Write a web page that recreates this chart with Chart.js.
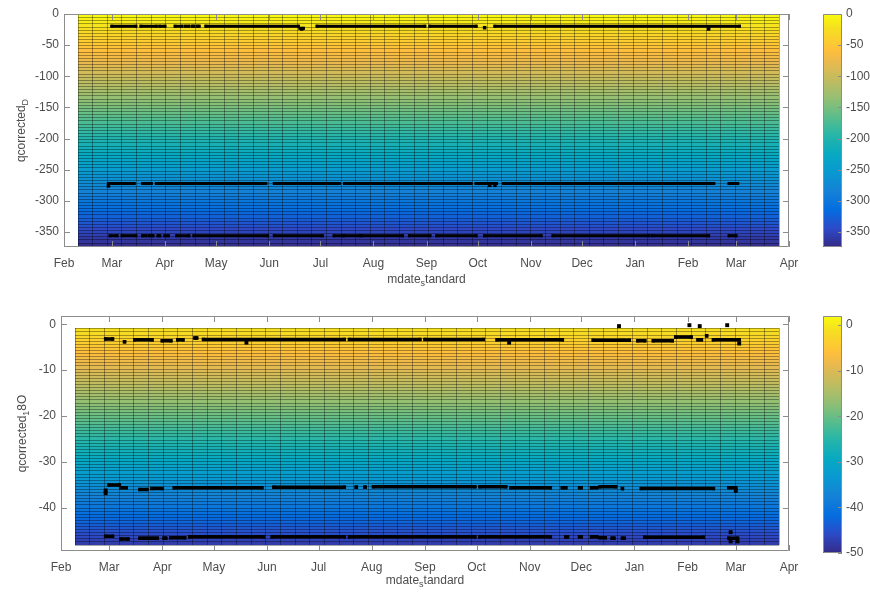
<!DOCTYPE html>
<html>
<head>
<meta charset="utf-8">
<script src="https://cdn.jsdelivr.net/npm/chart.js@4/dist/chart.umd.min.js"></script>
<style>
  body { margin: 0; background: #fff; width: 870px; height: 596px; overflow: hidden; position: relative; }
  canvas { position: absolute; }
</style>
</head>
<body>
<canvas id="plotD" width="800" height="300" style="left:0;top:0"></canvas>
<canvas id="cbarD" width="70" height="300" style="left:800px;top:0"></canvas>
<canvas id="plotO" width="800" height="296" style="left:0;top:300px"></canvas>
<canvas id="cbarO" width="70" height="296" style="left:800px;top:300px"></canvas>
<script>
// x axis (mdate_standard)
const monthTicks = ['2017-02-01','2017-03-01','2017-04-01','2017-05-01','2017-06-01','2017-07-01','2017-08-01',
  '2017-09-01','2017-10-01','2017-11-01','2017-12-01','2018-01-01','2018-02-01','2018-03-01','2018-04-01'];
const monthLabels = ['Feb','Mar','Apr','May','Jun','Jul','Aug','Sep','Oct','Nov','Dec','Jan','Feb','Mar','Apr'];

// pcolor mesh extent in time
const meshDates = ['2017-02-09', '2018-03-26'];
const meshCols = 48;

// ---- qcorrected_D panel ----
const dTicks = [0, -50, -100, -150, -200, -250, -300, -350];
const dRange = [-374, 0];
const dMesh = [-372, 0];
const dRows = 74;
// runs of samples: [from, to, value]
const dHigh = [
  ['2017-03-01','2017-03-15',-19.5], ['2017-03-18','2017-03-27',-19.5], ['2017-03-29','2017-04-01',-19.5],
  ['2017-04-07','2017-04-11',-19.5], ['2017-04-13','2017-04-15',-19.5], ['2017-04-17','2017-04-18',-19.5],
  ['2017-04-20','2017-04-21',-19.5], ['2017-04-25','2017-06-18',-19.5], ['2017-06-19','2017-06-21',-23],
  ['2017-06-29','2017-08-31',-19.5], ['2017-09-03','2017-09-30',-19.5], ['2017-10-11','2018-03-03',-19.5]
];
const dMid = [
  ['2017-02-27','2017-03-14',-272], ['2017-03-19','2017-03-24',-272], ['2017-03-27','2017-05-30',-272],
  ['2017-06-04','2017-07-12',-272], ['2017-07-15','2017-09-27',-272], ['2017-09-30','2017-10-12',-272],
  ['2017-10-16','2018-02-16',-272], ['2018-02-25','2018-03-02',-272]
];
const dLow = [
  ['2017-02-28','2017-03-04',-356], ['2017-03-07','2017-03-15',-356], ['2017-03-19','2017-03-21',-356],
  ['2017-03-23','2017-03-25',-356], ['2017-03-28','2017-03-29',-356], ['2017-04-01','2017-04-03',-356],
  ['2017-04-08','2017-04-15',-356], ['2017-04-18','2017-05-31',-356], ['2017-06-04','2017-07-02',-356],
  ['2017-07-09','2017-07-14',-356], ['2017-07-15','2017-07-24',-356], ['2017-07-25','2017-08-18',-356],
  ['2017-08-22','2017-09-03',-356], ['2017-09-07','2017-09-30',-356], ['2017-10-05','2017-11-07',-356],
  ['2017-11-14','2018-01-09',-356], ['2018-01-11','2018-02-13',-356], ['2018-02-25','2018-03-01',-356]
];
// single samples off the main runs: [date, value]
const dSingles = [
  ['2017-02-27',-276], ['2017-06-20',-24], ['2017-10-05',-22], ['2017-10-08',-275], ['2017-10-11',-275],
  ['2018-02-13',-24]
];

// ---- qcorrected_18O panel ----
const oTicks = [0, -10, -20, -30, -40];
const oBarTicks = [0, -10, -20, -30, -40, -50];
const oRange = [-49.4, 1.8];
const oBarRange = [-50, 2];
const oMesh = [-48, -0.9];
const oRows = 70;
const oHigh = [
  ['2017-02-27','2017-03-03',-3.2], ['2017-03-10','2017-03-10',-3.8], ['2017-03-16','2017-03-26',-3.4],
  ['2017-04-01','2017-04-06',-3.6], ['2017-04-10','2017-04-13',-3.4], ['2017-04-20','2017-04-21',-3.0],
  ['2017-04-25','2017-07-16',-3.3], ['2017-07-19','2017-08-29',-3.3], ['2017-09-01','2017-10-05',-3.3],
  ['2017-10-13','2017-11-20',-3.4], ['2017-12-08','2017-12-24',-3.5], ['2017-12-26','2017-12-29',-3.5],
  ['2018-01-03','2018-01-07',-3.6], ['2018-01-12','2018-01-23',-3.6], ['2018-01-25','2018-02-03',-2.8],
  ['2018-02-07','2018-02-09',-3.4], ['2018-02-12','2018-02-12',-2.5], ['2018-02-16','2018-03-03',-3.4]
];
const oMid = [
  ['2017-03-01','2017-03-07',-35.0], ['2017-03-08','2017-03-11',-35.6], ['2017-03-19','2017-03-23',-36.0],
  ['2017-03-26','2017-04-01',-35.8], ['2017-04-08','2017-05-29',-35.6], ['2017-06-05','2017-07-16',-35.5],
  ['2017-07-23','2017-07-23',-35.5], ['2017-07-28','2017-07-28',-35.5], ['2017-08-02','2017-09-30',-35.4],
  ['2017-10-03','2017-10-18',-35.4], ['2017-10-21','2017-11-13',-35.6], ['2017-11-20','2017-11-22',-35.6],
  ['2017-11-30','2017-12-01',-35.6], ['2017-12-07','2017-12-10',-35.6], ['2017-12-12','2017-12-21',-35.4],
  ['2017-12-25','2017-12-25',-35.8], ['2018-01-05','2018-02-16',-35.8], ['2018-02-25','2018-03-01',-35.6]
];
const oLow = [
  ['2017-02-27','2017-03-03',-46.2], ['2017-03-08','2017-03-12',-46.8], ['2017-03-19','2017-03-21',-46.6],
  ['2017-03-23','2017-03-25',-46.6], ['2017-03-27','2017-03-29',-46.6], ['2017-04-02','2017-04-03',-46.6],
  ['2017-04-06','2017-04-14',-46.5], ['2017-04-17','2017-05-30',-46.3], ['2017-06-04','2017-07-16',-46.3],
  ['2017-07-19','2017-09-30',-46.3], ['2017-10-03','2017-11-13',-46.3], ['2017-11-22','2017-11-23',-46.3],
  ['2017-11-30','2017-12-01',-46.3], ['2017-12-07','2017-12-10',-46.3], ['2017-12-12','2017-12-15',-46.5],
  ['2017-12-19','2017-12-20',-46.6], ['2017-12-25','2017-12-26',-46.6], ['2018-01-07','2018-02-10',-46.4],
  ['2018-02-25','2018-03-02',-46.6]
];
const oSingles = [
  ['2017-02-27',-36.8], ['2017-02-27',-36.2], ['2017-05-20',-4.0], ['2017-10-20',-4.0],
  ['2017-12-23',-0.4], ['2018-02-02',-0.2], ['2018-02-08',-0.4], ['2018-02-24',-0.2],
  ['2018-02-26',-45.3], ['2018-02-26',-47.3], ['2018-03-01',-36.3], ['2018-03-02',-47.3], ['2018-03-03',-4.2]
];

// parula colormap stops
const parula = [
  [0.2081,0.1663,0.5292],[0.1707,0.2919,0.7792],[0.0165,0.4266,0.8786],[0.0779,0.5040,0.8384],
  [0.0343,0.5966,0.8199],[0.0267,0.6642,0.7607],[0.1453,0.7098,0.6646],[0.3482,0.7424,0.5473],
  [0.5709,0.7485,0.4494],[0.7525,0.7384,0.3768],[0.9139,0.7258,0.3063],[0.9938,0.7455,0.2403],
  [0.9880,0.8066,0.1794],[0.9626,0.8705,0.1309],[0.9763,0.9831,0.0538]
];
const parulaPos = [0, 5, 10, 15, 20, 25, 30, 35, 40, 45, 50, 53, 56, 59, 63].map(i => i / 63);

const textColor = '#4d4d4d';
const axisColor = '#8c8c8c';
const font = { family: '"Liberation Sans", Arial, sans-serif', size: 12 };

function day(s) {
  const p = s.split('-').map(Number);
  return Date.UTC(p[0], p[1] - 1, p[2]) / 864e5;
}

function colorAt(t) {
  t = Math.max(0, Math.min(1, t));
  let i = 0;
  while (i < parulaPos.length - 2 && t > parulaPos[i + 1]) i++;
  const f = (t - parulaPos[i]) / (parulaPos[i + 1] - parulaPos[i]);
  const c = parula[i].map((v, k) => Math.round(255 * (v + (parula[i + 1][k] - v) * f)));
  return 'rgb(' + c.join(',') + ')';
}

function runPoints(runs) {
  const pts = [];
  runs.forEach(r => {
    pts.push({ x: day(r[0]), y: r[2] });
    pts.push({ x: day(r[1]), y: r[2] });
    pts.push({ x: day(r[1]) + 0.5, y: null });
  });
  return pts;
}

// draws the pcolor cells under the samples
const meshPlugin = {
  id: 'mesh',
  beforeDatasetsDraw(chart, args, o) {
    const { ctx, scales: { x, y } } = chart;
    const x0 = day(o.dates[0]), x1 = day(o.dates[1]);
    const dx = (x1 - x0) / o.cols, dy = (o.values[1] - o.values[0]) / o.rows;
    const px0 = Math.round(x.getPixelForValue(x0)), px1 = Math.round(x.getPixelForValue(x1));
    ctx.save();
    for (let i = 0; i < o.rows; i++) {
      const v0 = o.values[0] + i * dy;
      const top = Math.round(y.getPixelForValue(v0 + dy)), bot = Math.round(y.getPixelForValue(v0));
      ctx.fillStyle = colorAt((v0 + dy / 2 - o.clim[0]) / (o.clim[1] - o.clim[0]));
      ctx.fillRect(px0, top, px1 - px0, bot - top);
    }
    ctx.strokeStyle = 'rgba(0,0,0,0.34)';
    ctx.lineWidth = 1;
    ctx.beginPath();
    const pyTop = Math.round(y.getPixelForValue(o.values[1])), pyBot = Math.round(y.getPixelForValue(o.values[0]));
    for (let i = 0; i <= o.rows; i++) {
      const py = Math.round(y.getPixelForValue(o.values[0] + i * dy)) + 0.5;
      ctx.moveTo(px0, py); ctx.lineTo(px1, py);
    }
    for (let j = 0; j <= o.cols; j++) {
      const px = Math.round(x.getPixelForValue(x0 + j * dx)) + 0.5;
      ctx.moveTo(px, pyTop); ctx.lineTo(px, pyBot);
    }
    ctx.stroke();
    ctx.restore();
  }
};

// matlab style box with inward ticks
const framePlugin = {
  id: 'frame',
  afterDraw(chart, args, o) {
    const { ctx, chartArea: a, scales } = chart;
    const L = o.tick || 6;
    ctx.save();
    ctx.strokeStyle = axisColor;
    ctx.lineWidth = 1;
    ctx.beginPath();
    ctx.rect(a.left + 0.5, a.top + 0.5, a.right - a.left - 1, a.bottom - a.top - 1);
    if (o.xTicks) {
      scales.x.ticks.forEach(t => {
        const px = Math.round(scales.x.getPixelForValue(t.value)) + 0.5;
        ctx.moveTo(px, a.bottom); ctx.lineTo(px, a.bottom - L);
        ctx.moveTo(px, a.top); ctx.lineTo(px, a.top + L);
      });
    }
    scales.y.ticks.forEach(t => {
      const py = Math.round(scales.y.getPixelForValue(t.value)) + 0.5;
      if (o.yLeft) { ctx.moveTo(a.left, py); ctx.lineTo(a.left + L, py); }
      ctx.moveTo(a.right, py); ctx.lineTo(a.right - L, py);
    });
    ctx.stroke();
    ctx.restore();
  }
};

function drawRich(ctx, parts, x, y) {
  const big = '12px ' + font.family, small = '9px ' + font.family;
  let w = 0;
  parts.forEach(p => { ctx.font = p[1] ? small : big; w += ctx.measureText(p[0]).width; });
  let cx = x - w / 2;
  parts.forEach(p => {
    ctx.font = p[1] ? small : big;
    ctx.fillText(p[0], cx, y + (p[1] ? 3 : 0));
    cx += ctx.measureText(p[0]).width;
  });
}

// axis titles with tex-like subscripts
const titlePlugin = {
  id: 'titles',
  afterDraw(chart, args, o) {
    const { ctx, chartArea: a } = chart;
    ctx.save();
    ctx.fillStyle = textColor;
    ctx.textAlign = 'left';
    ctx.textBaseline = 'alphabetic';
    drawRich(ctx, o.x, (a.left + a.right) / 2, a.bottom + o.xGap);
    ctx.translate(o.yX, (a.top + a.bottom) / 2);
    ctx.rotate(-Math.PI / 2);
    drawRich(ctx, o.y, 0, 0);
    ctx.restore();
  }
};

function makePlot(id, cfg) {
  const style = {
    borderColor: '#000', backgroundColor: '#000', borderWidth: cfg.lw, borderCapStyle: 'square',
    pointStyle: 'rect', pointRadius: cfg.lw / 2 + 0.5, pointBorderWidth: 0, pointBackgroundColor: '#000',
    spanGaps: false, fill: false, tension: 0
  };
  const datasets = cfg.rows.map(r => Object.assign({ data: runPoints(r) }, style));
  datasets.push(Object.assign({}, style, {
    data: cfg.singles.map(s => ({ x: day(s[0]), y: s[1] })), showLine: false, pointRadius: cfg.lw / 2 + 1
  }));
  return new Chart(document.getElementById(id), {
    type: 'line',
    data: { datasets },
    options: {
      responsive: false,
      animation: false,
      events: [],
      layout: { padding: { left: 0, top: cfg.top, right: 11, bottom: 0 } },
      plugins: {
        legend: { display: false },
        tooltip: { enabled: false },
        mesh: { dates: meshDates, cols: meshCols, values: cfg.mesh, rows: cfg.meshRows, clim: cfg.clim },
        frame: { xTicks: true, yLeft: true, tick: 6 },
        titles: { x: [['mdate', 0], ['s', 1], ['tandard', 0]], xGap: cfg.xGap, y: cfg.yTitle, yX: cfg.yX }
      },
      scales: {
        x: {
          type: 'linear',
          min: day(monthTicks[0]),
          max: day(monthTicks[monthTicks.length - 1]),
          afterBuildTicks: s => { s.ticks = monthTicks.map(d => ({ value: day(d) })); },
          afterFit: s => { s.height = cfg.xHeight; s.paddingLeft = 0; s.paddingRight = 0; },
          ticks: { callback: (v, i) => monthLabels[i], autoSkip: false, maxRotation: 0, padding: 9, color: textColor, font },
          grid: { display: false, drawTicks: false },
          border: { display: false }
        },
        y: {
          type: 'linear',
          min: cfg.range[0],
          max: cfg.range[1],
          afterBuildTicks: s => { s.ticks = cfg.ticks.map(v => ({ value: v })); },
          afterFit: s => { s.width = cfg.yWidth; s.paddingTop = 0; s.paddingBottom = 0; },
          ticks: { callback: v => String(v), padding: 5, color: textColor, font },
          grid: { display: false, drawTicks: false },
          border: { display: false }
        }
      }
    },
    plugins: [meshPlugin, framePlugin, titlePlugin]
  });
}

function makeColorbar(id, cfg) {
  return new Chart(document.getElementById(id), {
    type: 'bar',
    data: {
      labels: [''],
      datasets: [{
        data: [cfg.range],
        barPercentage: 1,
        categoryPercentage: 1,
        borderWidth: 0,
        backgroundColor: c => {
          const a = c.chart.chartArea;
          if (!a) return '#000';
          const g = c.chart.ctx.createLinearGradient(0, a.bottom, 0, a.top);
          parulaPos.forEach((p, i) => g.addColorStop(p, colorAt(p)));
          return g;
        }
      }]
    },
    options: {
      responsive: false,
      animation: false,
      events: [],
      layout: { padding: { left: 23, top: cfg.top, right: 0, bottom: cfg.bottom } },
      plugins: { legend: { display: false }, tooltip: { enabled: false }, frame: { xTicks: false, yLeft: false, tick: 4 } },
      scales: {
        x: { display: false },
        y: {
          position: 'right',
          min: cfg.range[0],
          max: cfg.range[1],
          afterBuildTicks: s => { s.ticks = cfg.ticks.map(v => ({ value: v })); },
          afterFit: s => { s.width = 28; s.paddingTop = 0; s.paddingBottom = 0; },
          ticks: { callback: v => String(v), padding: 4, color: textColor, font },
          grid: { display: false, drawTicks: false },
          border: { display: false }
        }
      }
    },
    plugins: [framePlugin]
  });
}

makePlot('plotD', {
  rows: [dHigh, dMid, dLow], singles: dSingles, lw: 3, top: 14, xHeight: 53, yWidth: 64,
  range: dRange, ticks: dTicks, mesh: dMesh, meshRows: dRows, clim: dRange,
  xGap: 36, yX: 25, yTitle: [['qcorrected', 0], ['D', 1]]
});
makeColorbar('cbarD', { range: dRange, ticks: dTicks, top: 14, bottom: 53 });

makePlot('plotO', {
  rows: [oHigh, oMid, oLow], singles: oSingles, lw: 3.5, top: 16, xHeight: 45, yWidth: 61,
  range: oRange, ticks: oTicks, mesh: oMesh, meshRows: oRows, clim: oBarRange,
  xGap: 33, yX: 26, yTitle: [['qcorrected', 0], ['1', 1], ['8O', 0]]
});
makeColorbar('cbarO', { range: oBarRange, ticks: oBarTicks, top: 16, bottom: 43 });
</script>
</body>
</html>
